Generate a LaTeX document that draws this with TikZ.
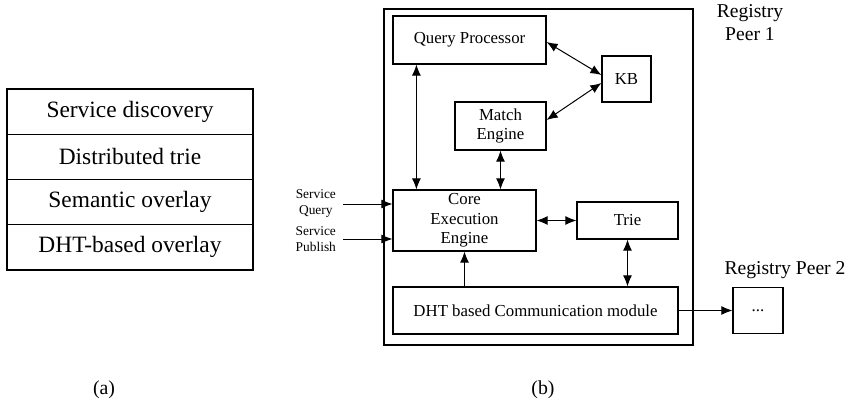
\documentclass[tikz,border=0pt]{standalone}
\usepackage{fontspec}
\setmainfont{Liberation Serif}
\usetikzlibrary{arrows.meta}
\begin{document}
\begin{tikzpicture}
[x=0.5pt,y=-0.5pt,
  boxdecorate/.style={shape=rectangle,draw,line width=0.6pt,inner sep=0pt,align=center,font=\fontsize{8.4}{9.8}\selectfont},%
  layerdecorate/.style={boxdecorate,minimum width=123pt,minimum height=22.6pt,font=\fontsize{11.7}{14}\selectfont},%
  linedecorate/.style={-{Latex[length=5.5pt,width=4.5pt]},line width=0.5pt},%
  bothdecorate/.style={{Latex[length=5.5pt,width=4.5pt]}-{Latex[length=5.5pt,width=4.5pt]},line width=0.5pt},%
  labeldecorate/.style={align=center,font=\fontsize{6.7}{8}\selectfont}]
\useasboundingbox (0,0) rectangle (851,401);
%% (a) layers
\foreach \nodename/\y/\txt in {sd/111.6/Service discovery, dt/156.9/Distributed trie,
  so/202.1/Semantic overlay, dho/247.4/DHT-based overlay} {
  \node (\nodename) at (130,\y) [layerdecorate] {\txt};
}
%% (b) registry peer
\node (peer) at (538.5,177) [boxdecorate,minimum width=154.5pt,minimum height=168pt] {};
\foreach \nodename/\x/\y/\w/\h/\txt in {qp/469.5/40/76.5/24/Query Processor,
  me/500.5/126/45.5/24/{Match\\Engine}, kb/626.5/79/24.5/23/KB,
  core/464.5/220.5/71.5/30.5/{Core\\Execution\\Engine}, trie/627.5/220.5/50.5/18.5/Trie,
  dht/535.5/310.5/142.5/23.5/DHT based Communication module} {
  \node (\nodename) at (\x,\y) [boxdecorate,minimum width=\w pt,minimum height=\h pt] {\txt};
}
\node (dots) at (758,310.5) [boxdecorate,minimum width=25pt,minimum height=23pt] {...};
%% labels
\node (peerlabel) at (750,23) [align=center,font=\fontsize{9.8}{11.5}\selectfont] {Registry\\Peer 1};
\node (dotslabel) at (785,270) [font=\fontsize{9.8}{11.5}\selectfont] {Registry Peer 2};
\coordinate (sq) at (343,204);
\coordinate (sp) at (343,239);
\node (sqlabel) at (sq) [labeldecorate,anchor=east] {Service\\Query};
\node (splabel) at (sp) [labeldecorate,anchor=east] {Service\\Publish};
\node (capa) at (104,390) [font=\fontsize{9.9}{12}\selectfont] {(a)};
\node (capb) at (543,390) [font=\fontsize{9.9}{12}\selectfont] {(b)};
%% edges
\path
\foreach \startnode/\endnode/\tip in {core.east/trie.west/bothdecorate,
  dht.east/dots.west/linedecorate, me.south/me.south |- core.north/bothdecorate,
  trie.south/trie.south |- dht.north/bothdecorate, dht.north -| core.south/core.south/linedecorate,
  sq/sq -| core.west/linedecorate, sp/sp -| core.west/linedecorate} {
  (\startnode) edge[\tip] (\endnode)
};
\draw[bothdecorate] ([xshift=12pt]qp.south west) -- ([xshift=12pt]qp.south west |- core.north);
\draw[bothdecorate] ([yshift=-1pt]qp.east) -- ([yshift=2pt]kb.west);
\draw[bothdecorate] ([yshift=3pt]me.east) -- ([yshift=-2pt]kb.west);
\end{tikzpicture}
\end{document}
